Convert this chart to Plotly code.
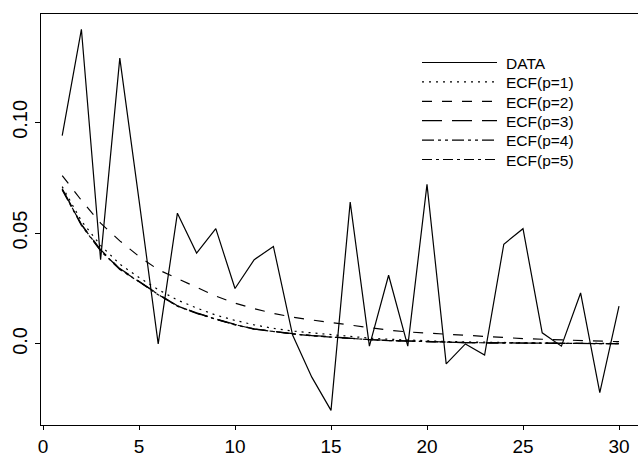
import plotly.graph_objects as go

# ---- data ----
lags = list(range(1, 31))
data_vals = [0.094, 0.142, 0.038, 0.129, 0.065, 0.000, 0.059, 0.041, 0.052, 0.025,
             0.038, 0.044, 0.004, -0.015, -0.030, 0.064, -0.001, 0.031, -0.001, 0.072,
             -0.009, 0.000, -0.005, 0.045, 0.052, 0.005, -0.001, 0.023, -0.022, 0.017]
ecf_p1 = [0.0710, 0.0555, 0.0445, 0.0360, 0.0300, 0.0245, 0.0198, 0.0162, 0.0130, 0.0106,
          0.0086, 0.0070, 0.0058, 0.0050, 0.0040, 0.0032, 0.0026, 0.0021, 0.0017, 0.0014,
          0.0011, 0.0009, 0.0007, 0.0006, 0.0005, 0.0004, 0.0003, 0.0003, 0.0002, 0.0002]
ecf_p2 = [0.0760, 0.0648, 0.0545, 0.0465, 0.0395, 0.0335, 0.0295, 0.0257, 0.0216, 0.0184,
          0.0159, 0.0138, 0.0121, 0.0108, 0.0096, 0.0084, 0.0072, 0.0062, 0.0054, 0.0048,
          0.0043, 0.0039, 0.0034, 0.0028, 0.0024, 0.0021, 0.0018, 0.0015, 0.0012, 0.0010]
ecf_p3 = [0.0700, 0.0540, 0.0425, 0.0340, 0.0283, 0.0225, 0.0172, 0.0140, 0.0113, 0.0088,
          0.0068, 0.0056, 0.0046, 0.0038, 0.0031, 0.0025, 0.0020, 0.0016, 0.0013, 0.0010,
          0.0008, 0.0006, 0.0005, 0.0004, 0.0003, 0.0003, 0.0002, 0.0002, 0.0001, 0.0001]
ecf_p4 = [0.0695, 0.0535, 0.0420, 0.0336, 0.0280, 0.0222, 0.0170, 0.0138, 0.0111, 0.0086,
          0.0067, 0.0055, 0.0045, 0.0037, 0.0030, 0.0024, 0.0019, 0.0015, 0.0012, 0.0010,
          0.0008, 0.0006, 0.0005, 0.0004, 0.0003, 0.0002, 0.0002, 0.0001, 0.0001, 0.0001]
ecf_p5 = [0.0698, 0.0538, 0.0422, 0.0338, 0.0281, 0.0223, 0.0171, 0.0139, 0.0112, 0.0087,
          0.0067, 0.0055, 0.0045, 0.0037, 0.0030, 0.0024, 0.0019, 0.0015, 0.0012, 0.0010,
          0.0008, 0.0006, 0.0005, 0.0004, 0.0003, 0.0002, 0.0002, 0.0001, 0.0001, 0.0001]

x_ticks = [0, 5, 10, 15, 20, 25, 30]
y_ticks = [0.0, 0.05, 0.10]
y_tick_labels = ["0.0", "0.05", "0.10"]

series_names = ["DATA", "ECF(p=1)", "ECF(p=2)", "ECF(p=3)", "ECF(p=4)", "ECF(p=5)"]
series_vals = [data_vals, ecf_p1, ecf_p2, ecf_p3, ecf_p4, ecf_p5]
dashes = ["solid", "2px,5px", "10px,10px", "20px,10px",
          "12px,4px,3px,4px,3px,4px", "10px,4px,3px,4px"]

W, H = 638, 456
L, R, T, B = 41, 0, 14, 31
FONT = "Liberation Sans, Arial, Helvetica, sans-serif"

fig = go.Figure()
for name, vals, dash in zip(series_names, series_vals, dashes):
    fig.add_trace(go.Scatter(x=lags, y=vals, mode="lines", name=name,
                             line=dict(color="black", width=1.2, dash=dash),
                             showlegend=False, hoverinfo="x+y"))

# manual legend (long line samples like the R original)
pw, ph = W - L - R, H - T - B
def px2paper_x(px):
    return (px - L) / pw
def px2paper_y(py):
    return (H - B - py) / ph

shapes = []
annotations = []
for i, (name, dash) in enumerate(zip(series_names, dashes)):
    yy = 62.5 + 19.4 * i
    shapes.append(dict(type="line", xref="paper", yref="paper",
                       x0=px2paper_x(422), x1=px2paper_x(497),
                       y0=px2paper_y(yy), y1=px2paper_y(yy),
                       line=dict(color="black", width=1.2, dash=dash)))
    annotations.append(dict(xref="paper", yref="paper", x=px2paper_x(504),
                            y=px2paper_y(yy + 0.8), text=name, showarrow=False,
                            xanchor="left", yanchor="middle",
                            font=dict(family=FONT, size=15.5, color="black")))

fig.update_layout(
    width=W, height=H,
    margin=dict(l=L, r=R, t=T, b=B, autoexpand=False),
    paper_bgcolor="white", plot_bgcolor="white",
    font=dict(family=FONT, color="black"),
    shapes=shapes, annotations=annotations,
    showlegend=False,
    xaxis=dict(range=[(L - 43) / 19.2, (W - 43) / 19.2],
               tickmode="array", tickvals=x_ticks,
               ticks="outside", ticklen=4, tickwidth=1, tickcolor="black",
               showline=True, linecolor="black", linewidth=1, mirror=True,
               showgrid=False, zeroline=False,
               tickfont=dict(size=19, family=FONT, color="black")),
    yaxis=dict(range=[-0.0366, 0.1489],
               tickmode="array", tickvals=y_ticks, ticktext=y_tick_labels,
               ticks="outside", ticklen=5, tickwidth=1, tickcolor="black",
               tickangle=-90,
               showline=True, linecolor="black", linewidth=1,
               showgrid=False, zeroline=False,
               tickfont=dict(size=20, family=FONT, color="black")),
)

fig.write_html("out.html", config={"displayModeBar": False},
               post_script="document.body.style.margin='0';document.body.style.padding='0';")
